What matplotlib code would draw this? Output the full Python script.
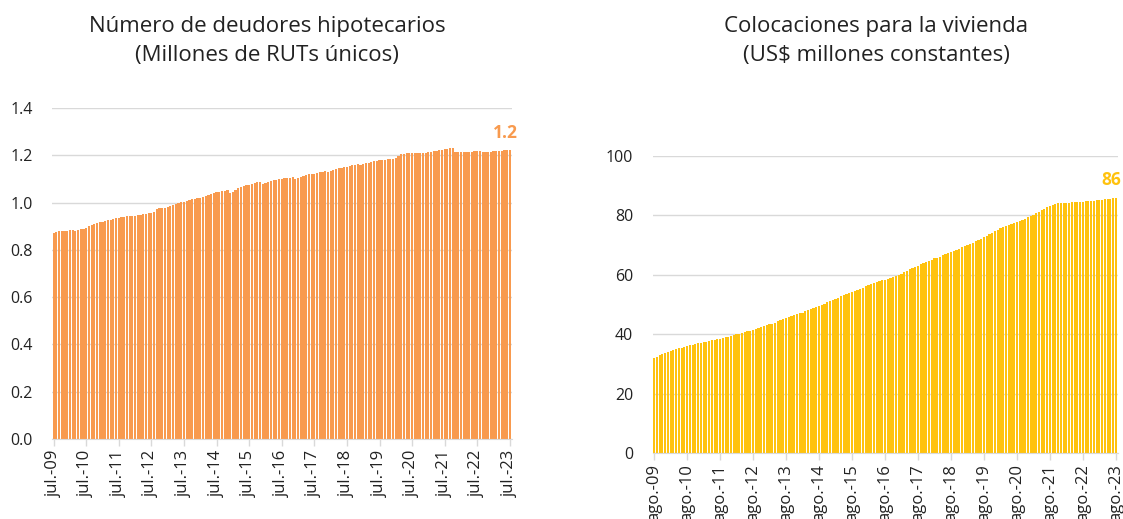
from matplotlib import pyplot as plt
from matplotlib.ticker import FormatStrFormatter

FONT = ['Open Sans', 'DejaVu Sans']
ORANGE = "#F89A4E"
YELLOW = "#FFC20E"
GRID = "#D9D9D9"
TEXT = "#222222"

# Número de deudores hipotecarios (millones de RUTs únicos), jul-09 .. jul-23
deudores = [
    0.873, 0.877, 0.880, 0.881, 0.880, 0.881, 0.883, 0.882, 0.880, 0.884, 0.887, 0.889,
    0.892, 0.903, 0.906, 0.910, 0.914, 0.916, 0.918, 0.922, 0.925, 0.928, 0.931, 0.934,
    0.936, 0.938, 0.940, 0.942, 0.943, 0.944, 0.945, 0.946, 0.948, 0.950, 0.952, 0.955,
    0.958, 0.962, 0.972, 0.976, 0.977, 0.979, 0.983, 0.987, 0.991, 0.995, 0.998, 1.001,
    1.003, 1.007, 1.011, 1.013, 1.016, 1.019, 1.021, 1.024, 1.028, 1.032, 1.036, 1.040,
    1.043, 1.045, 1.048, 1.050, 1.052, 1.041, 1.046, 1.055, 1.060, 1.065, 1.070, 1.074,
    1.076, 1.079, 1.082, 1.085, 1.085, 1.080, 1.084, 1.088, 1.091, 1.094, 1.097, 1.099,
    1.100, 1.102, 1.104, 1.106, 1.107, 1.100, 1.104, 1.108, 1.112, 1.116, 1.119, 1.121,
    1.122, 1.125, 1.128, 1.131, 1.133, 1.129, 1.133, 1.137, 1.141, 1.145, 1.148, 1.150,
    1.152, 1.155, 1.158, 1.160, 1.162, 1.160, 1.163, 1.166, 1.169, 1.172, 1.175, 1.177,
    1.178, 1.180, 1.182, 1.184, 1.186, 1.186, 1.189, 1.197, 1.205, 1.207, 1.208, 1.208,
    1.209, 1.210, 1.208, 1.209, 1.211, 1.210, 1.214, 1.216, 1.218, 1.220, 1.222, 1.224,
    1.225, 1.228, 1.229, 1.230, 1.216, 1.214, 1.214, 1.213, 1.214, 1.215, 1.216, 1.217,
    1.217, 1.218, 1.212, 1.213, 1.215, 1.216, 1.217, 1.218, 1.219, 1.220, 1.221, 1.222, 1.223,
]
deudores_labels = ["jul.-%02d" % y for y in range(9, 24)]

# Colocaciones para la vivienda (US$ millones constantes), ago-09 .. ago-23
colocaciones = [
    32.0, 32.4, 32.9, 33.4, 33.8, 34.1, 34.3, 34.6, 34.9, 35.2, 35.5, 35.8,
    36.0, 36.3, 36.5, 36.7, 36.9, 37.1, 37.3, 37.5, 37.7, 37.9, 38.1, 38.3,
    38.5, 38.7, 38.9, 39.2, 39.4, 39.6, 39.9, 40.1, 40.4, 40.7, 41.0, 41.2,
    41.5, 41.8, 42.1, 42.4, 42.7, 43.0, 43.3, 43.6, 43.9, 44.3, 44.7, 45.1,
    45.5, 45.8, 46.1, 46.4, 46.7, 47.0, 47.3, 47.7, 48.1, 48.5, 48.9, 49.2,
    49.5, 49.9, 50.3, 50.7, 51.1, 51.5, 51.9, 52.3, 52.7, 53.1, 53.5, 53.8,
    54.1, 54.5, 54.9, 55.3, 55.7, 56.1, 56.5, 56.9, 57.2, 57.5, 57.8, 58.1,
    58.4, 58.7, 59.0, 59.3, 59.6, 60.0, 60.4, 60.8, 61.3, 61.8, 62.3, 62.7,
    63.1, 63.5, 63.9, 64.3, 64.7, 65.1, 65.5, 65.8, 66.1, 66.5, 66.9, 67.3,
    67.6, 68.0, 68.4, 68.8, 69.2, 69.6, 70.0, 70.4, 70.8, 71.3, 71.8, 72.2,
    72.6, 73.1, 73.6, 74.1, 74.6, 75.1, 75.6, 76.1, 76.5, 76.8, 77.1, 77.4,
    77.7, 78.0, 78.3, 78.8, 79.3, 79.8, 80.3, 80.8, 81.3, 81.8, 82.3, 82.8,
    83.2, 83.6, 84.0, 84.2, 84.3, 84.3, 84.3, 84.3, 84.4, 84.4, 84.5, 84.5,
    84.6, 84.7, 84.8, 84.9, 85.0, 85.1, 85.2, 85.3, 85.4, 85.5, 85.6, 85.8, 86.0,
]
colocaciones_labels = ["ago.-%02d" % y for y in range(9, 24)]

plt.rcParams['font.family'] = FONT

W, H = 1123, 519
fig = plt.figure(figsize=(W / 100, H / 100), dpi=100)


def px_axes(x0, x1, y_top, y_bottom):
    """ Axes from pixel coordinates (origin top-left) """
    return fig.add_axes([x0 / W, (H - y_bottom) / H,
                         (x1 - x0) / W, (y_bottom - y_top) / H])


def style(ax, values, labels, ylim, yticks, color, fmt, last_label):
    n = len(values)
    ax.bar(range(n), values, width=0.8, color=color, linewidth=0)
    ax.set_xlim(-0.6, n - 0.4)
    ax.set_ylim(*ylim)
    ax.set_yticks(yticks)
    ax.yaxis.set_major_formatter(FormatStrFormatter(fmt))
    ax.set_xticks(range(0, n, 12))
    ax.set_xticklabels(labels, rotation=90, fontsize=12, color=TEXT)
    ax.tick_params(axis='x', length=5, color=GRID, width=1, pad=3)
    ax.tick_params(axis='y', length=0, labelsize=11.5, labelcolor=TEXT, pad=14)
    for s in ['top', 'right', 'left']:
        ax.spines[s].set_visible(False)
    ax.spines['bottom'].set_color(GRID)
    ax.grid(axis='y', color=GRID, linewidth=1)
    ax.set_axisbelow(True)
    ax.annotate(last_label, xy=(n - 1, values[-1]), xytext=(-3, 6),
                textcoords="offset points", ha="center", va="bottom",
                color=color, fontsize=12.5, fontweight="bold")


ax1 = px_axes(52, 511.5, 108, 439)
style(ax1, deudores, deudores_labels, (0, 1.4),
      [0, 0.2, 0.4, 0.6, 0.8, 1.0, 1.2, 1.4], ORANGE, "%.1f", "1.2")

ax2 = px_axes(652.5, 1117.5, 156, 453)
style(ax2, colocaciones, colocaciones_labels, (0, 100),
      [0, 20, 40, 60, 80, 100], YELLOW, "%d", "86")

# Titles at fixed positions above each panel
fig.text(267 / W, 1 - 41 / H, "Número de deudores hipotecarios\n(Millones de RUTs únicos)",
         ha="center", va="center", fontsize=16, color=TEXT, linespacing=1.45)
fig.text(876 / W, 1 - 41 / H, "Colocaciones para la vivienda\n(US$ millones constantes)",
         ha="center", va="center", fontsize=16, color=TEXT, linespacing=1.45)

fig.savefig("out.png", dpi=100)
